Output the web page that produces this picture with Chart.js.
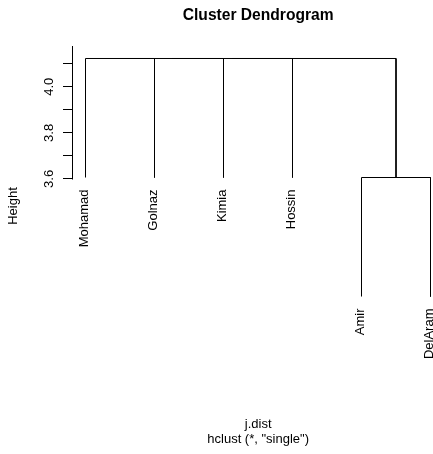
<!DOCTYPE html>
<html>
<head>
<meta charset="utf-8">
<title>Cluster Dendrogram</title>
<script src="https://cdn.jsdelivr.net/npm/chart.js@4/dist/chart.umd.min.js"></script>
<style>
  html, body { margin: 0; padding: 0; background: #fff; }
  #wrap { width: 433px; height: 454px; }
</style>
</head>
<body>
<div id="wrap"><canvas id="dendro" width="433" height="454"></canvas></div>
<script>
// Leaves in plotting order, left to right
const leafNames = ['Mohamad', 'Golnaz', 'Kimia', 'Hossin', 'Amir', 'DelAram'];

// hclust-style merge table: negative = leaf number, positive = earlier merge step
const mergeLeft = [-5, -1, 2, 3, 4];
const mergeRight = [-6, -2, -3, -4, 1];
const mergeHeight = [3.606, 4.123, 4.123, 4.123, 4.123];

// how far each leaf branch drops below the merge it joins
const hang = 0.517;

// y axis
const yTicks = [3.6, 3.7, 3.8, 3.9, 4.0, 4.1];
const yTickLabels = ['3.6', '', '3.8', '', '4.0', ''];
const yMin = 2.7872, yMax = 4.1773;

// leaf axis: the plot region runs on to 6.2, past the right edge of the canvas
const xMin = 0.8043, xMax = 6.0362, xRegionEnd = 6.2;

const FONT = "'Liberation Sans', Arial, Helvetica, sans-serif";

// walk the merge table to build one polyline per merge
const nodeX = [];
const leafTip = [];
const segments = [];
mergeLeft.forEach((l, i) => {
  const h = mergeHeight[i];
  const pos = (c) => {
    if (c < 0) {
      leafTip[-c - 1] = h - hang;
      return { x: -c, y: h - hang };
    }
    return { x: nodeX[c - 1], y: mergeHeight[c - 1] };
  };
  const a = pos(l);
  const b = pos(mergeRight[i]);
  nodeX[i] = (a.x + b.x) / 2;
  segments.push([
    { x: a.x, y: a.y }, { x: a.x, y: h },
    { x: b.x, y: h }, { x: b.x, y: b.y }
  ]);
});

// text and the partial axis line, placed with the chart's scales
const dendroText = {
  id: 'dendroText',
  afterDraw(chart) {
    const { ctx, chartArea, scales: { x, y } } = chart;
    ctx.save();
    ctx.fillStyle = '#000';
    ctx.strokeStyle = '#000';
    ctx.lineWidth = 1;

    // y axis line only spans the tick range, cut at the top of the region
    const ax = Math.round(chartArea.left) + 0.5;
    ctx.beginPath();
    ctx.moveTo(ax, Math.round(y.getPixelForValue(yTicks[0])) + 0.5);
    ctx.lineTo(ax, chartArea.top);
    ctx.stroke();

    // leaf labels, rotated, hanging below each branch tip
    ctx.font = '13px ' + FONT;
    ctx.textAlign = 'right';
    ctx.textBaseline = 'middle';
    leafNames.forEach((name, i) => {
      const px = x.getPixelForValue(i + 1) - 1.5;
      const py = y.getPixelForValue(leafTip[i]) + 12;
      ctx.save();
      ctx.translate(px, py);
      ctx.rotate(-Math.PI / 2);
      ctx.fillText(name, 0, 0);
      ctx.restore();
    });

    // titles centred on the full plot region
    const cx = x.getPixelForValue((xMin + xRegionEnd) / 2);
    ctx.textAlign = 'center';
    ctx.textBaseline = 'alphabetic';
    ctx.font = 'bold 15.6px ' + FONT;
    ctx.fillText('Cluster Dendrogram', cx, 20);
    ctx.font = '13px ' + FONT;
    ctx.fillText('j.dist', cx, 428);
    ctx.fillText('hclust (*, "single")', cx, 443);
    ctx.restore();
  }
};

new Chart(document.getElementById('dendro'), {
  type: 'scatter',
  data: {
    datasets: segments.map((pts) => ({
      data: pts,
      showLine: true,
      borderColor: '#000',
      borderWidth: 1,
      pointRadius: 0,
      fill: false,
      tension: 0
    }))
  },
  options: {
    responsive: false,
    animation: false,
    events: [],
    layout: { padding: { top: 46, bottom: 88, left: 0, right: 0 } },
    plugins: { legend: { display: false }, tooltip: { enabled: false }, title: { display: false } },
    scales: {
      x: { type: 'linear', min: xMin, max: xMax, display: false },
      y: {
        type: 'linear',
        min: yMin,
        max: yMax,
        afterBuildTicks: (scale) => { scale.ticks = yTicks.map(v => ({ value: v })); },
        afterFit: (scale) => { scale.width = 72; },
        border: { display: false },
        grid: { drawOnChartArea: false, drawTicks: true, tickLength: 9, color: '#000', lineWidth: 1 },
        ticks: {
          color: '#000',
          font: { family: FONT, size: 13 },
          minRotation: 90,
          maxRotation: 90,
          crossAlign: 'center',
          padding: 5,
          autoSkip: false,
          callback: (v, i) => yTickLabels[i]
        },
        title: {
          display: true,
          text: 'Height',
          color: '#000',
          font: { family: FONT, size: 13 },
          padding: { top: 6, bottom: 0 }
        }
      }
    }
  },
  plugins: [dendroText]
});
</script>
</body>
</html>
